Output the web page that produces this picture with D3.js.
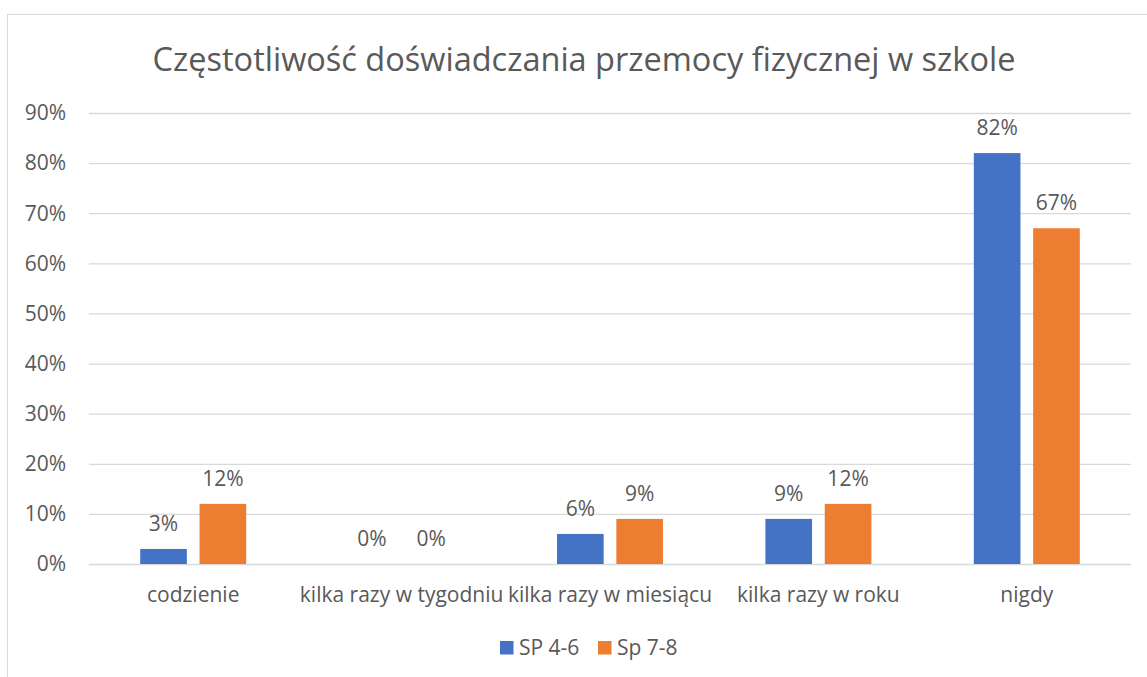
<!DOCTYPE html>
<html>
<head>
<meta charset="utf-8">
<script src="https://cdn.jsdelivr.net/npm/d3@7"></script>
<style>
  body { margin: 0; background: #fff; }
  svg text { font-family: "Open Sans", sans-serif; fill: #595959; }
</style>
</head>
<body>
<div id="chart"></div>
<script>
// data
const categories = ["codzienie", "kilka razy w tygodniu", "kilka razy w miesiącu", "kilka razy w roku", "nigdy"];
const seriesNames = ["SP 4-6", "Sp 7-8"];
const sp46 = [3, 0, 6, 9, 82];
const sp78 = [12, 0, 9, 12, 67];
const yTicks = [0, 10, 20, 30, 40, 50, 60, 70, 80, 90];
const colors = ["#4472C4", "#ED7D31"];

function createBarChart() {
    const W = 1147, H = 677;
    const margin = {top: 113, right: 16, bottom: 113, left: 89};
    const width = W - margin.left - margin.right;
    const height = H - margin.top - margin.bottom;

    const svg = d3.select("#chart").append("svg")
        .attr("width", W)
        .attr("height", H);

    // chart border
    svg.append("rect")
        .attr("x", 7.5).attr("y", 14.5)
        .attr("width", W + 10).attr("height", H + 10)
        .attr("fill", "none")
        .attr("stroke", "#D9D9D9");

    svg.append("text")
        .attr("x", 584)
        .attr("y", 71)
        .attr("text-anchor", "middle")
        .style("font-size", "32.5px")
        .text("Częstotliwość doświadczania przemocy fizycznej w szkole");

    const g = svg.append("g")
        .attr("transform", `translate(${margin.left},${margin.top})`);

    const x0 = d3.scaleBand().domain(categories).range([0, width]).padding(0);
    const x1 = d3.scaleBand().domain(seriesNames).range([0, x0.bandwidth()])
        .paddingInner(0.214).paddingOuter(0.863);
    const y = d3.scaleLinear().domain([0, 90]).range([height, 0]);

    // gridlines
    g.append("g")
        .call(d3.axisLeft(y).tickValues(yTicks).tickSize(-width).tickFormat(""))
        .call(s => s.select(".domain").remove())
        .selectAll("line").attr("stroke", "#D9D9D9").attr("stroke-width", 1.3);

    // y labels
    g.append("g")
        .selectAll("text")
        .data(yTicks)
        .enter().append("text")
        .attr("x", -23)
        .attr("y", d => y(d))
        .attr("dy", "0.35em")
        .attr("text-anchor", "end")
        .style("font-size", "21px")
        .text(d => d + "%");

    // x labels
    g.append("g")
        .selectAll("text")
        .data(categories)
        .enter().append("text")
        .attr("x", d => x0(d) + x0.bandwidth() / 2)
        .attr("y", height + 38)
        .attr("text-anchor", "middle")
        .style("font-size", "21px")
        .text(d => d);

    const rows = categories.map((c, i) => ({cat: c, vals: [sp46[i], sp78[i]]}));

    const groups = g.selectAll(".grp")
        .data(rows)
        .enter().append("g")
        .attr("class", "grp")
        .attr("transform", d => `translate(${x0(d.cat)},0)`);

    groups.selectAll("rect")
        .data(d => d.vals.map((v, j) => ({key: seriesNames[j], v: v, j: j})))
        .enter().append("rect")
        .attr("x", d => x1(d.key))
        .attr("y", d => y(d.v))
        .attr("width", x1.bandwidth())
        .attr("height", d => height - y(d.v))
        .attr("fill", d => colors[d.j]);

    groups.selectAll(".lbl")
        .data(d => d.vals.map((v, j) => ({key: seriesNames[j], v: v})))
        .enter().append("text")
        .attr("class", "lbl")
        .attr("x", d => x1(d.key) + x1.bandwidth() / 2)
        .attr("y", d => y(d.v) - 18)
        .attr("text-anchor", "middle")
        .style("font-size", "21px")
        .text(d => d.v + "%");

    // legend
    const legend = svg.append("g");
    const legendX = [500, 598];
    seriesNames.forEach((name, i) => {
        legend.append("rect")
            .attr("x", legendX[i]).attr("y", 641)
            .attr("width", 13.5).attr("height", 13.5)
            .attr("fill", colors[i]);
        legend.append("text")
            .attr("x", legendX[i] + 19)
            .attr("y", 655)
            .style("font-size", "21px")
            .text(name);
    });
}

createBarChart();
</script>
</body>
</html>
